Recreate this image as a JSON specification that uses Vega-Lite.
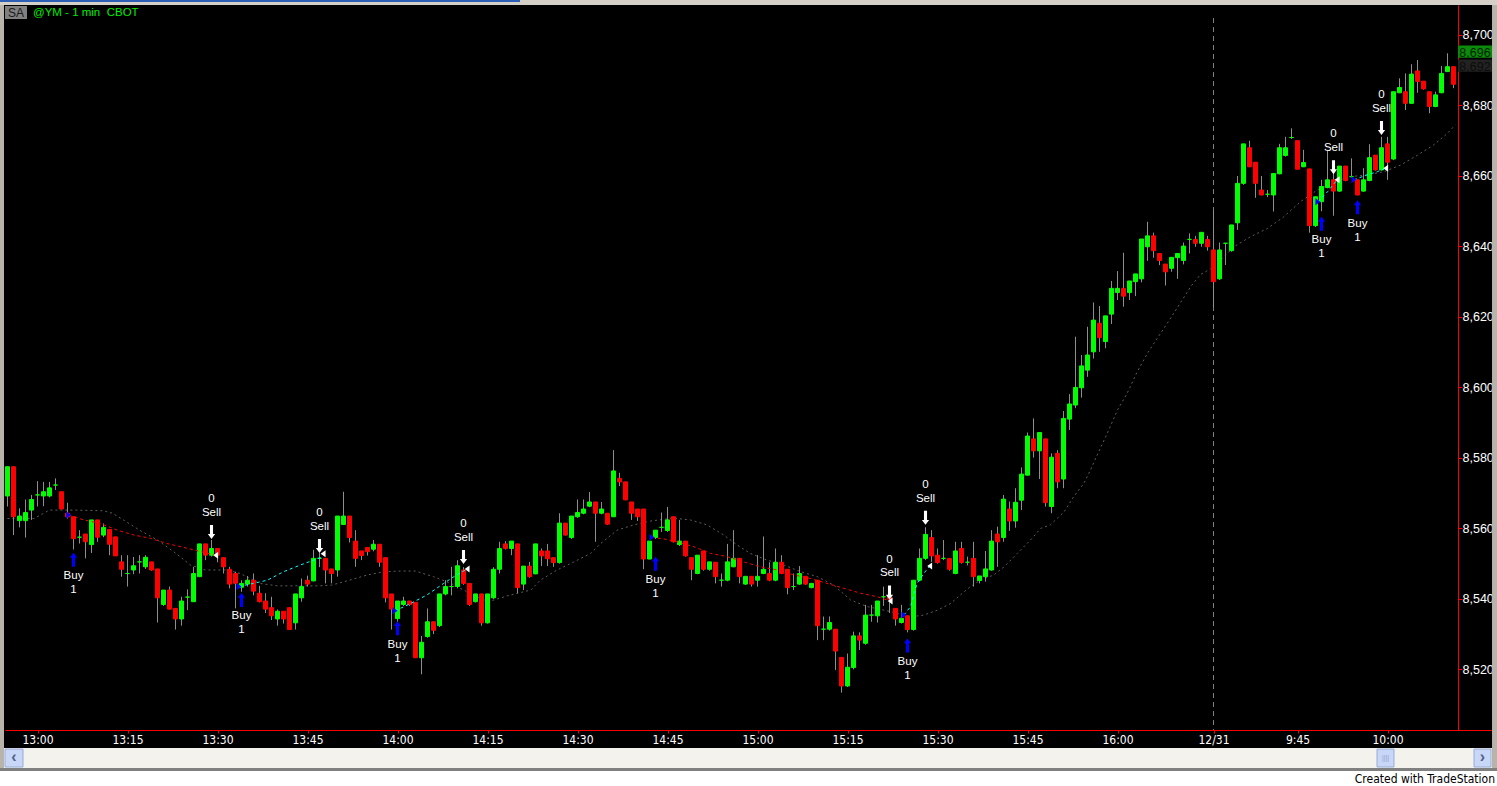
{
"$schema": "https://vega.github.io/schema/vega-lite/v6.json",
"autosize": {"type": "none"},
"width": 1453, "height": 725,
"padding": {"left": 5, "top": 5, "right": 39, "bottom": 56},
"background": "#000000",
"config": {"view": {"stroke": null}, "axis": {"grid": false, "labelFont": "Liberation Sans"}},
"datasets": {
"bars": [
{"i":0,"o":8569.2,"h":8577.5,"l":8566.2,"c":8577.5},{"i":1,"o":8577.5,"h":8577.5,"l":8558.1,"c":8563.3},{"i":2,"o":8562.2,"h":8565.7,"l":8560.3,"c":8563.5},{"i":3,"o":8562.2,"h":8568.2,"l":8557.4,"c":8564.5},{"i":4,"o":8565.2,"h":8569.5,"l":8562.4,"c":8568.2},{"i":5,"o":8569.5,"h":8573.4,"l":8566.2,"c":8569.5},{"i":6,"o":8569.2,"h":8573.2,"l":8566.3,"c":8570.4},{"i":7,"o":8569.2,"h":8573.2,"l":8568.8,"c":8571.5},{"i":8,"o":8572.3,"h":8574.2,"l":8570.9,"c":8572.3},{"i":9,"o":8570.4,"h":8570.4,"l":8565.5,"c":8565.5},
{"i":10,"o":8564.3,"h":8567.3,"l":8562.8,"c":8563.3},{"i":11,"o":8563.3,"h":8563.3,"l":8554.0,"c":8557.1},{"i":12,"o":8557.5,"h":8559.5,"l":8555.7,"c":8557.5},{"i":13,"o":8558.4,"h":8558.4,"l":8551.5,"c":8556.2},{"i":14,"o":8555.4,"h":8562.4,"l":8553.0,"c":8562.4},{"i":15,"o":8562.4,"h":8562.4,"l":8556.2,"c":8557.5},{"i":16,"o":8558.1,"h":8561.4,"l":8557.5,"c":8560.3},{"i":17,"o":8559.7,"h":8559.7,"l":8552.4,"c":8555.5},{"i":18,"o":8557.6,"h":8557.6,"l":8552.2,"c":8552.2},{"i":19,"o":8550.5,"h":8552.4,"l":8546.3,"c":8548.4},
{"i":20,"o":8547.2,"h":8552.4,"l":8543.5,"c":8547.2},{"i":21,"o":8548.2,"h":8551.9,"l":8547.0,"c":8549.4},{"i":22,"o":8550.5,"h":8552.4,"l":8547.2,"c":8550.5},{"i":23,"o":8549.1,"h":8552.4,"l":8548.5,"c":8551.8},{"i":24,"o":8550.5,"h":8550.5,"l":8548.0,"c":8548.2},{"i":25,"o":8548.5,"h":8548.5,"l":8533.3,"c":8540.3},{"i":26,"o":8538.4,"h":8542.5,"l":8538.0,"c":8542.5},{"i":27,"o":8542.5,"h":8543.5,"l":8537.0,"c":8537.1},{"i":28,"o":8537.3,"h":8537.3,"l":8531.3,"c":8534.3},{"i":29,"o":8534.3,"h":8540.6,"l":8532.4,"c":8539.4},
{"i":30,"o":8540.5,"h":8542.7,"l":8536.8,"c":8540.5},{"i":31,"o":8539.2,"h":8549.1,"l":8539.2,"c":8547.2},{"i":32,"o":8546.3,"h":8555.6,"l":8546.3,"c":8555.6},{"i":33,"o":8555.6,"h":8555.6,"l":8551.0,"c":8552.4},{"i":34,"o":8552.4,"h":8556.7,"l":8552.0,"c":8554.3},{"i":35,"o":8554.3,"h":8554.3,"l":8550.4,"c":8552.4},{"i":36,"o":8551.7,"h":8551.7,"l":8547.2,"c":8549.1},{"i":37,"o":8548.4,"h":8549.1,"l":8543.0,"c":8544.2},{"i":38,"o":8547.2,"h":8547.7,"l":8537.3,"c":8544.4},{"i":39,"o":8543.3,"h":8545.3,"l":8542.0,"c":8544.4},
{"i":40,"o":8544.2,"h":8546.5,"l":8543.5,"c":8545.3},{"i":41,"o":8545.3,"h":8547.2,"l":8541.0,"c":8542.2},{"i":42,"o":8541.6,"h":8543.7,"l":8539.0,"c":8539.2},{"i":43,"o":8539.4,"h":8541.6,"l":8536.0,"c":8537.1},{"i":44,"o":8537.5,"h":8540.6,"l":8534.0,"c":8535.2},{"i":45,"o":8534.3,"h":8537.0,"l":8532.4,"c":8536.5},{"i":46,"o":8536.5,"h":8536.5,"l":8533.0,"c":8534.3},{"i":47,"o":8537.5,"h":8537.5,"l":8531.3,"c":8531.3},{"i":48,"o":8533.2,"h":8541.4,"l":8531.3,"c":8541.4},{"i":49,"o":8540.3,"h":8545.8,"l":8539.2,"c":8543.5},
{"i":50,"o":8545.3,"h":8546.6,"l":8543.5,"c":8544.2},{"i":51,"o":8545.1,"h":8553.9,"l":8545.0,"c":8551.5},{"i":52,"o":8551.5,"h":8553.0,"l":8549.0,"c":8551.5},{"i":53,"o":8551.5,"h":8551.5,"l":8544.4,"c":8548.2},{"i":54,"o":8548.5,"h":8548.5,"l":8544.4,"c":8547.2},{"i":55,"o":8548.2,"h":8563.5,"l":8546.3,"c":8563.5},{"i":56,"o":8561.1,"h":8570.4,"l":8561.0,"c":8563.5},{"i":57,"o":8563.5,"h":8563.5,"l":8556.0,"c":8557.4},{"i":58,"o":8556.4,"h":8559.5,"l":8549.1,"c":8551.5},{"i":59,"o":8553.6,"h":8553.6,"l":8551.0,"c":8552.3},
{"i":60,"o":8554.6,"h":8554.6,"l":8552.3,"c":8553.4},{"i":61,"o":8554.1,"h":8556.7,"l":8553.5,"c":8555.5},{"i":62,"o":8555.5,"h":8555.5,"l":8549.1,"c":8550.4},{"i":63,"o":8551.7,"h":8551.7,"l":8539.0,"c":8540.3},{"i":64,"o":8541.4,"h":8541.4,"l":8531.3,"c":8537.1},{"i":65,"o":8534.4,"h":8539.4,"l":8533.0,"c":8539.4},{"i":66,"o":8538.4,"h":8540.6,"l":8538.0,"c":8539.4},{"i":67,"o":8539.4,"h":8539.4,"l":8538.0,"c":8538.4},{"i":68,"o":8539.0,"h":8539.0,"l":8523.3,"c":8523.3},{"i":69,"o":8523.3,"h":8529.5,"l":8518.6,"c":8527.7},
{"i":70,"o":8529.3,"h":8537.3,"l":8529.0,"c":8533.5},{"i":71,"o":8533.5,"h":8533.5,"l":8530.0,"c":8531.1},{"i":72,"o":8532.4,"h":8541.4,"l":8532.0,"c":8541.4},{"i":73,"o":8541.4,"h":8545.3,"l":8541.0,"c":8543.5},{"i":74,"o":8543.5,"h":8549.1,"l":8541.0,"c":8543.5},{"i":75,"o":8543.5,"h":8551.0,"l":8543.0,"c":8549.4},{"i":76,"o":8548.2,"h":8549.0,"l":8544.0,"c":8544.4},{"i":77,"o":8544.4,"h":8544.4,"l":8538.0,"c":8538.4},{"i":78,"o":8539.2,"h":8541.4,"l":8539.0,"c":8541.4},{"i":79,"o":8541.4,"h":8541.4,"l":8532.4,"c":8533.2},
{"i":80,"o":8533.2,"h":8541.4,"l":8533.0,"c":8541.4},{"i":81,"o":8540.3,"h":8549.0,"l":8540.0,"c":8548.4},{"i":82,"o":8548.4,"h":8556.2,"l":8547.2,"c":8554.3},{"i":83,"o":8555.6,"h":8556.4,"l":8554.0,"c":8554.3},{"i":84,"o":8554.3,"h":8556.4,"l":8552.4,"c":8556.4},{"i":85,"o":8555.6,"h":8555.6,"l":8541.6,"c":8543.2},{"i":86,"o":8544.2,"h":8549.3,"l":8542.5,"c":8549.3},{"i":87,"o":8549.3,"h":8550.5,"l":8546.0,"c":8546.3},{"i":88,"o":8547.1,"h":8555.6,"l":8547.0,"c":8555.6},{"i":89,"o":8553.6,"h":8554.3,"l":8549.3,"c":8552.2},
{"i":90,"o":8553.6,"h":8555.6,"l":8549.3,"c":8551.4},{"i":91,"o":8551.7,"h":8551.7,"l":8549.1,"c":8550.3},{"i":92,"o":8550.3,"h":8564.3,"l":8550.0,"c":8561.5},{"i":93,"o":8561.5,"h":8561.5,"l":8558.0,"c":8558.1},{"i":94,"o":8557.4,"h":8563.5,"l":8557.0,"c":8563.5},{"i":95,"o":8563.3,"h":8568.2,"l":8563.0,"c":8564.5},{"i":96,"o":8564.3,"h":8568.2,"l":8564.0,"c":8565.5},{"i":97,"o":8566.3,"h":8570.3,"l":8566.0,"c":8567.5},{"i":98,"o":8567.5,"h":8567.5,"l":8556.2,"c":8564.3},{"i":99,"o":8564.3,"h":8567.5,"l":8564.0,"c":8565.5},
{"i":100,"o":8564.3,"h":8564.3,"l":8561.0,"c":8561.2},{"i":101,"o":8563.3,"h":8582.2,"l":8563.3,"c":8576.3},{"i":102,"o":8574.2,"h":8575.8,"l":8572.0,"c":8573.2},{"i":103,"o":8573.2,"h":8573.2,"l":8568.0,"c":8568.1},{"i":104,"o":8567.5,"h":8567.5,"l":8562.4,"c":8564.3},{"i":105,"o":8565.5,"h":8565.5,"l":8562.1,"c":8563.3},{"i":106,"o":8565.5,"h":8565.5,"l":8548.4,"c":8551.3},{"i":107,"o":8551.3,"h":8556.4,"l":8551.3,"c":8556.4},{"i":108,"o":8557.4,"h":8559.5,"l":8557.0,"c":8559.5},{"i":109,"o":8560.3,"h":8564.5,"l":8559.0,"c":8560.3},
{"i":110,"o":8559.4,"h":8566.1,"l":8559.0,"c":8562.4},{"i":111,"o":8563.3,"h":8563.3,"l":8556.0,"c":8556.2},{"i":112,"o":8555.4,"h":8562.4,"l":8555.0,"c":8556.4},{"i":113,"o":8556.4,"h":8556.4,"l":8552.0,"c":8552.2},{"i":114,"o":8551.7,"h":8551.7,"l":8545.3,"c":8548.4},{"i":115,"o":8547.2,"h":8552.4,"l":8547.0,"c":8552.4},{"i":116,"o":8553.6,"h":8553.6,"l":8548.0,"c":8548.4},{"i":117,"o":8548.4,"h":8550.5,"l":8548.0,"c":8550.5},{"i":118,"o":8550.4,"h":8550.4,"l":8544.4,"c":8546.3},{"i":119,"o":8545.3,"h":8547.2,"l":8543.5,"c":8545.3},
{"i":120,"o":8545.3,"h":8555.6,"l":8545.0,"c":8550.5},{"i":121,"o":8549.1,"h":8559.5,"l":8549.0,"c":8551.5},{"i":122,"o":8551.5,"h":8551.5,"l":8544.4,"c":8546.3},{"i":123,"o":8544.2,"h":8546.4,"l":8544.0,"c":8546.4},{"i":124,"o":8546.4,"h":8546.4,"l":8543.5,"c":8544.2},{"i":125,"o":8545.3,"h":8552.4,"l":8543.5,"c":8546.4},{"i":126,"o":8547.2,"h":8557.7,"l":8547.0,"c":8548.4},{"i":127,"o":8547.2,"h":8550.4,"l":8545.0,"c":8545.3},{"i":128,"o":8545.3,"h":8554.3,"l":8545.0,"c":8550.4},{"i":129,"o":8550.4,"h":8552.4,"l":8547.0,"c":8547.2},
{"i":130,"o":8548.4,"h":8548.4,"l":8541.3,"c":8543.2},{"i":131,"o":8543.5,"h":8547.2,"l":8542.5,"c":8543.5},{"i":132,"o":8544.2,"h":8549.3,"l":8544.0,"c":8547.2},{"i":133,"o":8546.4,"h":8546.4,"l":8544.0,"c":8544.2},{"i":134,"o":8543.2,"h":8544.4,"l":8543.0,"c":8544.4},{"i":135,"o":8545.3,"h":8545.3,"l":8528.3,"c":8532.4},{"i":136,"o":8531.4,"h":8535.0,"l":8528.3,"c":8531.4},{"i":137,"o":8531.4,"h":8535.0,"l":8531.0,"c":8533.3},{"i":138,"o":8531.4,"h":8531.4,"l":8519.8,"c":8525.2},{"i":139,"o":8523.4,"h":8523.4,"l":8513.4,"c":8515.3},
{"i":140,"o":8515.3,"h":8524.5,"l":8515.0,"c":8520.6},{"i":141,"o":8520.5,"h":8530.7,"l":8520.0,"c":8529.5},{"i":142,"o":8529.5,"h":8530.5,"l":8525.5,"c":8528.3},{"i":143,"o":8527.4,"h":8538.3,"l":8527.0,"c":8535.4},{"i":144,"o":8535.4,"h":8538.3,"l":8533.5,"c":8535.4},{"i":145,"o":8535.2,"h":8539.4,"l":8533.3,"c":8539.4},{"i":146,"o":8540.6,"h":8543.5,"l":8538.0,"c":8540.6},{"i":147,"o":8540.6,"h":8541.0,"l":8536.0,"c":8539.9},{"i":148,"o":8537.3,"h":8537.3,"l":8532.4,"c":8534.3},{"i":149,"o":8533.3,"h":8538.3,"l":8533.0,"c":8534.5},
{"i":150,"o":8535.2,"h":8535.2,"l":8530.5,"c":8531.3},{"i":151,"o":8531.3,"h":8545.3,"l":8531.0,"c":8545.3},{"i":152,"o":8545.3,"h":8554.3,"l":8545.0,"c":8551.5},{"i":153,"o":8551.5,"h":8560.3,"l":8551.0,"c":8558.3},{"i":154,"o":8557.4,"h":8559.5,"l":8550.5,"c":8552.2},{"i":155,"o":8552.4,"h":8554.3,"l":8550.0,"c":8550.3},{"i":156,"o":8551.5,"h":8556.7,"l":8551.0,"c":8551.5},{"i":157,"o":8551.5,"h":8551.5,"l":8548.0,"c":8548.4},{"i":158,"o":8547.2,"h":8556.2,"l":8547.0,"c":8553.6},{"i":159,"o":8554.3,"h":8556.2,"l":8550.0,"c":8550.3},
{"i":160,"o":8550.4,"h":8552.0,"l":8549.5,"c":8550.4},{"i":161,"o":8551.5,"h":8556.2,"l":8543.5,"c":8546.3},{"i":162,"o":8545.2,"h":8546.5,"l":8544.4,"c":8546.5},{"i":163,"o":8546.3,"h":8553.6,"l":8544.9,"c":8548.5},{"i":164,"o":8548.2,"h":8559.5,"l":8548.0,"c":8556.4},{"i":165,"o":8558.4,"h":8560.5,"l":8549.1,"c":8556.2},{"i":166,"o":8557.4,"h":8569.5,"l":8556.2,"c":8568.3},{"i":167,"o":8565.5,"h":8567.6,"l":8559.3,"c":8562.1},{"i":168,"o":8562.1,"h":8571.4,"l":8560.2,"c":8567.4},{"i":169,"o":8568.0,"h":8577.3,"l":8565.2,"c":8575.4},
{"i":170,"o":8575.1,"h":8587.2,"l":8575.0,"c":8586.2},{"i":171,"o":8585.4,"h":8591.2,"l":8580.1,"c":8582.0},{"i":172,"o":8582.0,"h":8587.2,"l":8574.0,"c":8587.2},{"i":173,"o":8585.4,"h":8585.4,"l":8566.2,"c":8567.3},{"i":174,"o":8566.2,"h":8581.3,"l":8564.3,"c":8580.2},{"i":175,"o":8581.3,"h":8582.2,"l":8571.4,"c":8573.2},{"i":176,"o":8574.0,"h":8593.3,"l":8571.4,"c":8591.2},{"i":177,"o":8591.0,"h":8598.1,"l":8587.9,"c":8595.3},{"i":178,"o":8595.0,"h":8614.4,"l":8594.1,"c":8600.0},{"i":179,"o":8599.9,"h":8609.2,"l":8597.1,"c":8606.1},
{"i":180,"o":8604.9,"h":8617.2,"l":8603.0,"c":8609.2},{"i":181,"o":8610.1,"h":8624.1,"l":8608.2,"c":8619.1},{"i":182,"o":8618.2,"h":8623.1,"l":8610.1,"c":8614.1},{"i":183,"o":8613.0,"h":8620.3,"l":8611.1,"c":8620.3},{"i":184,"o":8620.8,"h":8630.2,"l":8618.0,"c":8628.1},{"i":185,"o":8626.9,"h":8633.0,"l":8624.8,"c":8628.1},{"i":186,"o":8628.1,"h":8638.2,"l":8622.9,"c":8625.9},{"i":187,"o":8626.9,"h":8630.2,"l":8624.8,"c":8630.2},{"i":188,"o":8630.0,"h":8632.2,"l":8625.9,"c":8632.2},{"i":189,"o":8630.8,"h":8642.1,"l":8629.8,"c":8642.1},
{"i":190,"o":8639.9,"h":8647.0,"l":8635.9,"c":8643.0},{"i":191,"o":8643.0,"h":8643.9,"l":8636.8,"c":8638.8},{"i":192,"o":8638.0,"h":8638.0,"l":8634.7,"c":8636.0},{"i":193,"o":8635.0,"h":8635.0,"l":8628.9,"c":8632.8},{"i":194,"o":8633.8,"h":8636.9,"l":8632.8,"c":8636.9},{"i":195,"o":8636.8,"h":8638.0,"l":8630.8,"c":8638.0},{"i":196,"o":8636.0,"h":8641.1,"l":8634.9,"c":8640.1},{"i":197,"o":8642.0,"h":8643.7,"l":8638.0,"c":8642.0},{"i":198,"o":8642.0,"h":8643.0,"l":8639.9,"c":8640.9},{"i":199,"o":8640.9,"h":8644.0,"l":8639.9,"c":8644.0},
{"i":200,"o":8642.0,"h":8643.0,"l":8638.8,"c":8639.9},{"i":201,"o":8639.0,"h":8650.3,"l":8622.7,"c":8630.0},{"i":202,"o":8630.8,"h":8641.1,"l":8630.5,"c":8639.0},{"i":203,"o":8640.9,"h":8640.9,"l":8634.7,"c":8640.9},{"i":204,"o":8638.8,"h":8646.1,"l":8638.5,"c":8646.1},{"i":205,"o":8646.7,"h":8660.0,"l":8644.7,"c":8657.9},{"i":206,"o":8657.9,"h":8669.1,"l":8657.5,"c":8669.1},{"i":207,"o":8668.0,"h":8670.0,"l":8662.5,"c":8662.6},{"i":208,"o":8663.9,"h":8663.9,"l":8653.8,"c":8657.9},{"i":209,"o":8656.0,"h":8660.0,"l":8654.5,"c":8654.6},
{"i":210,"o":8654.8,"h":8656.0,"l":8654.0,"c":8654.8},{"i":211,"o":8654.6,"h":8660.7,"l":8649.9,"c":8660.7},{"i":212,"o":8660.6,"h":8669.1,"l":8660.5,"c":8668.0},{"i":213,"o":8665.8,"h":8671.1,"l":8665.5,"c":8668.0},{"i":214,"o":8670.9,"h":8673.5,"l":8670.5,"c":8670.9},{"i":215,"o":8670.0,"h":8670.0,"l":8661.9,"c":8661.9},{"i":216,"o":8662.6,"h":8667.4,"l":8662.5,"c":8663.8},{"i":217,"o":8662.0,"h":8662.0,"l":8643.9,"c":8645.9},{"i":218,"o":8645.9,"h":8654.1,"l":8645.5,"c":8654.1},{"i":219,"o":8652.7,"h":8658.9,"l":8650.0,"c":8657.0},
{"i":220,"o":8656.7,"h":8667.4,"l":8656.5,"c":8658.9},{"i":221,"o":8658.9,"h":8662.6,"l":8648.7,"c":8655.7},{"i":222,"o":8655.7,"h":8662.8,"l":8655.5,"c":8662.8},{"i":223,"o":8662.8,"h":8662.8,"l":8658.5,"c":8658.7},{"i":224,"o":8659.8,"h":8665.0,"l":8659.5,"c":8659.8},{"i":225,"o":8658.9,"h":8658.9,"l":8654.5,"c":8654.6},{"i":226,"o":8655.7,"h":8662.2,"l":8655.5,"c":8658.9},{"i":227,"o":8658.7,"h":8669.0,"l":8658.5,"c":8665.2},{"i":228,"o":8665.9,"h":8665.9,"l":8661.5,"c":8661.7},{"i":229,"o":8661.7,"h":8671.1,"l":8661.5,"c":8668.0},
{"i":230,"o":8669.1,"h":8671.1,"l":8658.9,"c":8663.9},{"i":231,"o":8664.8,"h":8683.9,"l":8664.5,"c":8683.9},{"i":232,"o":8683.6,"h":8687.7,"l":8683.5,"c":8685.1},{"i":233,"o":8683.9,"h":8689.1,"l":8678.7,"c":8680.6},{"i":234,"o":8680.6,"h":8691.7,"l":8680.5,"c":8688.9},{"i":235,"o":8689.8,"h":8692.9,"l":8683.6,"c":8686.8},{"i":236,"o":8686.9,"h":8686.9,"l":8684.5,"c":8684.7},{"i":237,"o":8683.9,"h":8683.9,"l":8677.8,"c":8679.7},{"i":238,"o":8679.7,"h":8683.9,"l":8679.5,"c":8683.0},{"i":239,"o":8683.6,"h":8691.2,"l":8683.5,"c":8689.1},
{"i":240,"o":8689.6,"h":8694.8,"l":8689.5,"c":8691.0},{"i":241,"o":8691.0,"h":8691.0,"l":8684.9,"c":8686.0}
],
"ma": [
{"i":0,"p":8562.8},{"i":4.4,"p":8562.8},{"i":7,"p":8565.2},{"i":11,"p":8565.2},{"i":16,"p":8565.0},{"i":17.5,"p":8564.3},{"i":19.5,"p":8562.2},{"i":22,"p":8559.5},{"i":25,"p":8556.7},{"i":28,"p":8553.0},{"i":30.5,"p":8549.6},{"i":33,"p":8548.2},{"i":36.6,"p":8548.2},{"i":38.8,"p":8547.2},{"i":42,"p":8544.4},{"i":45,"p":8543.7},{"i":49,"p":8543.7},{"i":52,"p":8543.7},{"i":54,"p":8543.9},{"i":57,"p":8545.3},{"i":60,"p":8546.8},{"i":62.7,"p":8547.7},{"i":65.5,"p":8547.9},{"i":68,"p":8547.9},{"i":71,"p":8546.3},{"i":73.9,"p":8544.4},{"i":76.6,"p":8542.0},{"i":79.4,"p":8539.7},{"i":80.5,"p":8539.4},{"i":83.8,"p":8541.1},{"i":87.2,"p":8542.5},{"i":88.8,"p":8545.3},{"i":91.6,"p":8548.2},{"i":94.4,"p":8550.5},{"i":97.2,"p":8552.9},{"i":98.8,"p":8555.6},{"i":101.6,"p":8559.5},{"i":104.4,"p":8561.0},{"i":107.2,"p":8562.1},{"i":110,"p":8562.7},{"i":111.6,"p":8562.8},{"i":113.8,"p":8562.4},{"i":116.6,"p":8561.0},{"i":119.4,"p":8558.1},{"i":121.6,"p":8555.3},{"i":123.8,"p":8552.9},{"i":126.6,"p":8551.0},{"i":129.4,"p":8549.6},{"i":132.2,"p":8547.7},{"i":135,"p":8546.3},{"i":137.7,"p":8543.9},{"i":140.5,"p":8539.7},{"i":143.3,"p":8537.8},{"i":147.2,"p":8536.4},{"i":150.5,"p":8534.9},{"i":152.7,"p":8535.4},{"i":155,"p":8536.8},{"i":157.2,"p":8538.7},{"i":158.8,"p":8541.1},{"i":160.5,"p":8543.5},{"i":162.2,"p":8545.4},{"i":164.4,"p":8546.8},{"i":166.1,"p":8549.1},{"i":168.3,"p":8552.9},{"i":170.5,"p":8556.7},{"i":172.2,"p":8560.0},{"i":173.8,"p":8561.0},{"i":176.1,"p":8564.7},{"i":177.7,"p":8569.0},{"i":179.4,"p":8572.8},{"i":180.5,"p":8576.6},{"i":181.6,"p":8580.8},{"i":183.3,"p":8587.0},{"i":185,"p":8593.6},{"i":186.6,"p":8598.3},{"i":188.3,"p":8604.5},{"i":190,"p":8609.7},{"i":191.6,"p":8613.9},{"i":193.3,"p":8618.2},{"i":195,"p":8622.7},{"i":197.2,"p":8628.6},{"i":198.8,"p":8632.0},{"i":201.1,"p":8634.2},{"i":204.4,"p":8639.9},{"i":207.2,"p":8642.8},{"i":210,"p":8645.1},{"i":212.7,"p":8648.4},{"i":215.5,"p":8652.7},{"i":218.3,"p":8656.0},{"i":221.1,"p":8658.4},{"i":223.8,"p":8659.8},{"i":226.6,"p":8660.3},{"i":229.4,"p":8661.2},{"i":232.2,"p":8663.1},{"i":235,"p":8665.9},{"i":237.7,"p":8668.8},{"i":240,"p":8672.1},{"i":241.3,"p":8674.5}
],
"trades": [
{"t":1,"k":"loss","i":10.2,"p":8563.8},{"t":1,"k":"loss","i":12.7,"p":8562.4},{"t":1,"k":"loss","i":15.5,"p":8561.4},{"t":1,"k":"loss","i":18.3,"p":8559.5},{"t":1,"k":"loss","i":21.1,"p":8558.1},{"t":1,"k":"loss","i":23.8,"p":8557.2},{"t":1,"k":"loss","i":26.6,"p":8555.7},{"t":1,"k":"loss","i":29.4,"p":8554.6},{"t":1,"k":"loss","i":32.2,"p":8553.4},{"t":1,"k":"loss","i":34.7,"p":8552.4},
{"t":2,"k":"win","i":38.6,"p":8543.5},{"t":2,"k":"win","i":41,"p":8544.4},{"t":2,"k":"win","i":43.3,"p":8545.3},{"t":2,"k":"win","i":46,"p":8547.7},{"t":2,"k":"win","i":48.8,"p":8549.6},{"t":2,"k":"win","i":52.6,"p":8552.0},
{"t":3,"k":"win","i":64.6,"p":8536.6},{"t":3,"k":"win","i":67.2,"p":8538.7},{"t":3,"k":"win","i":69.9,"p":8541.1},{"t":3,"k":"win","i":72.7,"p":8544.4},{"t":3,"k":"win","i":74.4,"p":8546.3},{"t":3,"k":"win","i":76.6,"p":8548.5},
{"t":4,"k":"loss","i":107.4,"p":8557.5},{"t":4,"k":"loss","i":109.4,"p":8557.0},{"t":4,"k":"loss","i":111.6,"p":8556.2},{"t":4,"k":"loss","i":114.4,"p":8554.8},{"t":4,"k":"loss","i":117.2,"p":8552.9},{"t":4,"k":"loss","i":119.9,"p":8552.0},{"t":4,"k":"loss","i":122.7,"p":8550.5},{"t":4,"k":"loss","i":125.5,"p":8549.1},{"t":4,"k":"loss","i":128.3,"p":8548.2},{"t":4,"k":"loss","i":131.1,"p":8546.8},{"t":4,"k":"loss","i":133.8,"p":8545.8},{"t":4,"k":"loss","i":136.6,"p":8544.4},{"t":4,"k":"loss","i":139.4,"p":8543.0},{"t":4,"k":"loss","i":142.2,"p":8541.6},{"t":4,"k":"loss","i":145,"p":8540.6},{"t":4,"k":"loss","i":147.1,"p":8539.4},
{"t":5,"k":"win","i":149.4,"p":8535.4},{"t":5,"k":"win","i":150.5,"p":8537.8},{"t":5,"k":"win","i":151.6,"p":8544.4},{"t":5,"k":"win","i":152.7,"p":8547.2},{"t":5,"k":"win","i":153.7,"p":8549.3},
{"t":6,"k":"win","i":218.4,"p":8652.7},{"t":6,"k":"win","i":220,"p":8655.5},{"t":6,"k":"win","i":221.6,"p":8658.9},
{"t":7,"k":"win","i":224.4,"p":8658.9},{"t":7,"k":"win","i":226.6,"p":8660.3},{"t":7,"k":"win","i":228.3,"p":8661.2},{"t":7,"k":"win","i":229.7,"p":8662.2}
],
"fills": [
{"kind":"entry","i":10.2,"p":8563.8},{"kind":"entry","i":38.6,"p":8543.5},{"kind":"entry","i":64.6,"p":8536.6},{"kind":"entry","i":107.4,"p":8557.5},{"kind":"entry","i":149.4,"p":8535.4},{"kind":"entry","i":218.4,"p":8652.7},{"kind":"entry","i":224.4,"p":8658.9},
{"kind":"exit","i":34.7,"p":8552.4},{"kind":"exit","i":52.6,"p":8552.8},{"kind":"exit","i":76.6,"p":8548.5},{"kind":"exit","i":147.1,"p":8539.4},{"kind":"exit","i":153.7,"p":8549.3},{"kind":"exit","i":221.6,"p":8658.9},{"kind":"exit","i":229.7,"p":8662.2}
],
"signals": [
{"side":"Buy","qty":"1","i":11,"p":8551.1},{"side":"Buy","qty":"1","i":39,"p":8539.7},{"side":"Buy","qty":"1","i":65,"p":8531.7},{"side":"Buy","qty":"1","i":108,"p":8550.0},{"side":"Buy","qty":"1","i":150,"p":8526.8},{"side":"Buy","qty":"1","i":219,"p":8646.4},{"side":"Buy","qty":"1","i":225,"p":8651.1},
{"side":"Sell","qty":"0","i":34,"p":8559.0},{"side":"Sell","qty":"0","i":52,"p":8555.0},{"side":"Sell","qty":"0","i":76,"p":8551.9},{"side":"Sell","qty":"0","i":147,"p":8541.8},{"side":"Sell","qty":"0","i":153,"p":8563.0},{"side":"Sell","qty":"0","i":221,"p":8662.5},{"side":"Sell","qty":"0","i":229,"p":8673.6}
],
"badges": [
{"label":"8,696","p":8696,"bg":"#0b8a0b","fg":"#002200"},
{"label":"8,692","p":8692,"bg":"#222222","fg":"#0c0c0c"}
]
},
"layer": [
{
"data": {"values": [{}]},
"mark": {"type": "rule", "color": "#808080", "strokeDash": [5, 4], "strokeWidth": 1},
"encoding": {
"x": {"datum": 201, "type": "quantitative", "scale": {"domain": [-0.416667, 241.75], "nice": false, "zero": false, "padding": 0},
 "axis": {"values": [5,20,35,50,65,80,95,110,125,140,155,170,185,201,215,230],
  "labelExpr": "['13:00','13:15','13:30','13:45','14:00','14:15','14:30','14:45','15:00','15:15','15:30','15:45','16:00','12/31','9:45','10:00'][indexof([5,20,35,50,65,80,95,110,125,140,155,170,185,201,215,230], datum.value)]",
  "title": null, "domainColor": "#ff0000", "tickColor": "#ff0000", "tickSize": 3, "labelColor": "#ffffff",
  "labelFont": "Liberation Sans Narrow, Arial Narrow, DejaVu Sans Condensed, Liberation Sans", "labelFontSize": 12,
  "labelPadding": 1, "labelFlush": false, "labelOverlap": false, "labelBound": false, "grid": false}},
"y": {"datum": 8704.8, "type": "quantitative", "scale": {"domain": [8502.8, 8708.5], "nice": false, "zero": false, "padding": 0},
 "axis": {"orient": "right", "values": [8520,8540,8560,8580,8600,8620,8640,8660,8680,8700], "format": ",d",
  "title": null, "domainColor": "#ff0000", "tickColor": "#ff0000", "tickSize": 4, "labelColor": "#ffffff",
  "labelFont": "Liberation Sans", "labelFontSize": 12.5, "labelPadding": 0, "labelBound": false, "labelOverlap": false, "grid": false}},
"y2": {"datum": 8502.8}
}
},
{
"data": {"name": "ma"},
"mark": {"type": "line", "color": "#5e5e5e", "strokeDash": [2, 3], "strokeWidth": 1},
"encoding": {"x": {"field": "i", "type": "quantitative", "title": null}, "y": {"field": "p", "type": "quantitative", "title": null}, "order": {"field": "i"}}
},
{
"data": {"name": "bars"},
"mark": {"type": "rule", "color": "#8e8e8e", "strokeWidth": 1},
"encoding": {"x": {"field": "i", "type": "quantitative", "title": null}, "y": {"field": "l", "type": "quantitative", "title": null}, "y2": {"field": "h"}}
},
{
"data": {"name": "bars"},
"mark": {"type": "bar", "width": 4, "strokeWidth": 1, "orient": "vertical"},
"encoding": {
"x": {"field": "i", "type": "quantitative", "title": null},
"y": {"field": "o", "type": "quantitative", "title": null}, "y2": {"field": "c"},
"color": {"condition": {"test": "datum.c >= datum.o", "value": "#00ff00"}, "value": "#ff0000"},
"stroke": {"condition": {"test": "datum.c >= datum.o", "value": "#00ff00"}, "value": "#ff0000"}
}
},
{
"data": {"name": "trades"},
"mark": {"type": "line", "strokeDash": [3, 3], "strokeWidth": 1},
"encoding": {
"x": {"field": "i", "type": "quantitative", "title": null}, "y": {"field": "p", "type": "quantitative", "title": null},
"detail": {"field": "t"}, "order": {"field": "i"},
"color": {"field": "k", "type": "nominal", "scale": {"domain": ["loss", "win"], "range": ["#ff0000", "#00ffff"]}, "legend": null}
}
},
{
"data": {"name": "fills"},
"transform": [{"filter": "datum.kind == 'entry'"}],
"mark": {"type": "point", "filled": true, "color": "#0000ff", "opacity": 1, "size": 49, "shape": "M -0.7,-1 L 0.7,0 L -0.7,1 Z"},
"encoding": {"x": {"field": "i", "type": "quantitative", "title": null}, "y": {"field": "p", "type": "quantitative", "title": null}}
},
{
"data": {"name": "fills"},
"transform": [{"filter": "datum.kind == 'exit'"}],
"mark": {"type": "point", "filled": true, "color": "#ffffff", "opacity": 1, "size": 49, "shape": "M 0.7,-1 L -0.7,0 L 0.7,1 Z"},
"encoding": {"x": {"field": "i", "type": "quantitative", "title": null}, "y": {"field": "p", "type": "quantitative", "title": null}}
},
{
"data": {"name": "signals"},
"transform": [{"filter": "datum.side == 'Buy'"}],
"mark": {"type": "point", "filled": true, "color": "#0000ff", "opacity": 1, "size": 196, "shape": "M -0.22,1 L 0.22,1 L 0.22,-0.3 L 0.52,-0.3 L 0,-1 L -0.52,-0.3 L -0.22,-0.3 Z"},
"encoding": {"x": {"field": "i", "type": "quantitative", "title": null}, "y": {"field": "p", "type": "quantitative", "title": null}}
},
{
"data": {"name": "signals"},
"transform": [{"filter": "datum.side == 'Sell'"}],
"mark": {"type": "point", "filled": true, "color": "#ffffff", "opacity": 1, "size": 196, "shape": "M -0.22,-1 L 0.22,-1 L 0.22,0.3 L 0.52,0.3 L 0,1 L -0.52,0.3 L -0.22,0.3 Z"},
"encoding": {"x": {"field": "i", "type": "quantitative", "title": null}, "y": {"field": "p", "type": "quantitative", "title": null}}
},
{
"data": {"name": "signals"},
"transform": [{"filter": "datum.side == 'Buy'"}],
"mark": {"type": "text", "color": "#ffffff", "font": "Liberation Sans", "fontSize": 11.5, "baseline": "middle", "align": "center", "dy": 16.5},
"encoding": {"x": {"field": "i", "type": "quantitative", "title": null}, "y": {"field": "p", "type": "quantitative", "title": null}, "text": {"field": "side"}}
},
{
"data": {"name": "signals"},
"transform": [{"filter": "datum.side == 'Buy'"}],
"mark": {"type": "text", "color": "#ffffff", "font": "Liberation Sans", "fontSize": 11.5, "baseline": "middle", "align": "center", "dy": 30.5},
"encoding": {"x": {"field": "i", "type": "quantitative", "title": null}, "y": {"field": "p", "type": "quantitative", "title": null}, "text": {"field": "qty"}}
},
{
"data": {"name": "signals"},
"transform": [{"filter": "datum.side == 'Sell'"}],
"mark": {"type": "text", "color": "#ffffff", "font": "Liberation Sans", "fontSize": 11.5, "baseline": "middle", "align": "center", "dy": -19.3},
"encoding": {"x": {"field": "i", "type": "quantitative", "title": null}, "y": {"field": "p", "type": "quantitative", "title": null}, "text": {"field": "side"}}
},
{
"data": {"name": "signals"},
"transform": [{"filter": "datum.side == 'Sell'"}],
"mark": {"type": "text", "color": "#ffffff", "font": "Liberation Sans", "fontSize": 11.5, "baseline": "middle", "align": "center", "dy": -33},
"encoding": {"x": {"field": "i", "type": "quantitative", "title": null}, "y": {"field": "p", "type": "quantitative", "title": null}, "text": {"field": "qty"}}
},
{
"data": {"name": "badges"},
"mark": {"type": "point", "filled": true, "opacity": 1, "size": 1156, "shape": "M -1,-0.36 L 1,-0.36 L 1,0.36 L -1,0.36 Z"},
"encoding": {"x": {"datum": 244.58}, "y": {"field": "p", "type": "quantitative", "title": null}, "yOffset": {"value": 2.5}, "color": {"field": "bg", "type": "nominal", "scale": null}}
},
{
"data": {"name": "badges"},
"mark": {"type": "text", "font": "Liberation Sans", "fontSize": 12.5, "baseline": "middle", "align": "center", "dy": 3.5},
"encoding": {"x": {"datum": 244.58}, "y": {"field": "p", "type": "quantitative", "title": null}, "text": {"field": "label"}, "color": {"field": "fg", "type": "nominal", "scale": null}}
},
{
"data": {"values": [{}]},
"mark": {"type": "rule", "color": "#ff0000", "strokeWidth": 1},
"encoding": {"x": {"datum": 241.75}, "x2": {"datum": 247.42}, "y": {"datum": 8502.66}}
},
{
"data": {"values": [{}]},
"mark": {"type": "rect", "color": "#808080"},
"encoding": {"x": {"datum": -0.417}, "x2": {"datum": 3.25}, "y": {"datum": 8708.22}, "y2": {"datum": 8704.53}}
},
{
"data": {"values": [{}]},
"mark": {"type": "text", "text": "SA", "color": "#1a1a1a", "font": "Liberation Sans", "fontSize": 12, "align": "center", "baseline": "middle"},
"encoding": {"x": {"datum": 1.417}, "y": {"datum": 8706.2}}
},
{
"data": {"values": [{}]},
"mark": {"type": "text", "text": "@YM - 1 min \u00a0CBOT", "color": "#00ee00", "font": "Liberation Sans", "fontSize": 11.5, "align": "left", "baseline": "middle"},
"encoding": {"x": {"datum": 4.25}, "y": {"datum": 8706.1}}
},
{
"data": {"values": [{}]},
"mark": {"type": "rect", "color": "#d4d0c8"},
"encoding": {"x": {"datum": -1.25}, "x2": {"datum": 248.25}, "y": {"datum": 8709.92}, "y2": {"datum": 8708.5}}
},
{
"data": {"values": [{}]},
"mark": {"type": "rect", "color": "#2d5fb5"},
"encoding": {"x": {"datum": -1.25}, "x2": {"datum": 85.42}, "y": {"datum": 8709.92}, "y2": {"datum": 8709.35}}
},
{
"data": {"values": [{}]},
"mark": {"type": "rect", "color": "#b8b4ac"},
"encoding": {"x": {"datum": -1.25}, "x2": {"datum": -0.583}, "y": {"datum": 8708.5}, "y2": {"datum": 8491.18}}
},
{
"data": {"values": [{}]},
"mark": {"type": "rect", "color": "#b8b4ac"},
"encoding": {"x": {"datum": 247.42}, "x2": {"datum": 248.25}, "y": {"datum": 8708.5}, "y2": {"datum": 8491.18}}
},
{
"data": {"values": [{}]},
"mark": {"type": "rect", "color": "#f3f2ec"},
"encoding": {"x": {"datum": -0.583}, "x2": {"datum": 247.42}, "y": {"datum": 8497.68}, "y2": {"datum": 8492.0}}
},
{
"data": {"values": [{}]},
"mark": {"type": "rect", "color": "#c8d6f8", "stroke": "#98acd8", "strokeWidth": 1},
"encoding": {"x": {"datum": -0.417}, "x2": {"datum": 2.583}, "y": {"datum": 8497.4}, "y2": {"datum": 8492.3}}
},
{
"data": {"values": [{}]},
"mark": {"type": "rect", "color": "#c8d6f8", "stroke": "#98acd8", "strokeWidth": 1},
"encoding": {"x": {"datum": 244.42}, "x2": {"datum": 247.25}, "y": {"datum": 8497.4}, "y2": {"datum": 8492.3}}
},
{
"data": {"values": [{}]},
"mark": {"type": "rect", "color": "#c8d6f8", "stroke": "#98acd8", "strokeWidth": 1},
"encoding": {"x": {"datum": 228.25}, "x2": {"datum": 231.08}, "y": {"datum": 8497.4}, "y2": {"datum": 8492.3}}
},
{
"data": {"values": [{}]},
"mark": {"type": "text", "text": "‹", "color": "#4d6185", "font": "Liberation Sans", "fontSize": 16, "fontWeight": "bold", "align": "center", "baseline": "middle", "dy": -1},
"encoding": {"x": {"datum": 1.083}, "y": {"datum": 8494.85}}
},
{
"data": {"values": [{}]},
"mark": {"type": "text", "text": "›", "color": "#4d6185", "font": "Liberation Sans", "fontSize": 16, "fontWeight": "bold", "align": "center", "baseline": "middle", "dy": -1},
"encoding": {"x": {"datum": 245.83}, "y": {"datum": 8494.85}}
},
{
"data": {"values": [{}]},
"mark": {"type": "text", "text": "||||", "color": "#8fa3cc", "font": "Liberation Sans", "fontSize": 7, "align": "center", "baseline": "middle"},
"encoding": {"x": {"datum": 229.67}, "y": {"datum": 8494.85}}
},
{
"data": {"values": [{}]},
"mark": {"type": "rect", "color": "#808080"},
"encoding": {"x": {"datum": -1.25}, "x2": {"datum": 248.25}, "y": {"datum": 8492.0}, "y2": {"datum": 8491.18}}
},
{
"data": {"values": [{}]},
"mark": {"type": "rect", "color": "#ffffff"},
"encoding": {"x": {"datum": -1.25}, "x2": {"datum": 248.25}, "y": {"datum": 8491.18}, "y2": {"datum": 8486.9}}
},
{
"data": {"values": [{}]},
"mark": {"type": "text", "text": "Created with TradeStation", "color": "#000000", "font": "Liberation Sans Narrow, Arial Narrow, DejaVu Sans Condensed, Liberation Sans", "fontSize": 12, "align": "right", "baseline": "middle"},
"encoding": {"x": {"datum": 247.92}, "y": {"datum": 8488.9}}
}
]
}
